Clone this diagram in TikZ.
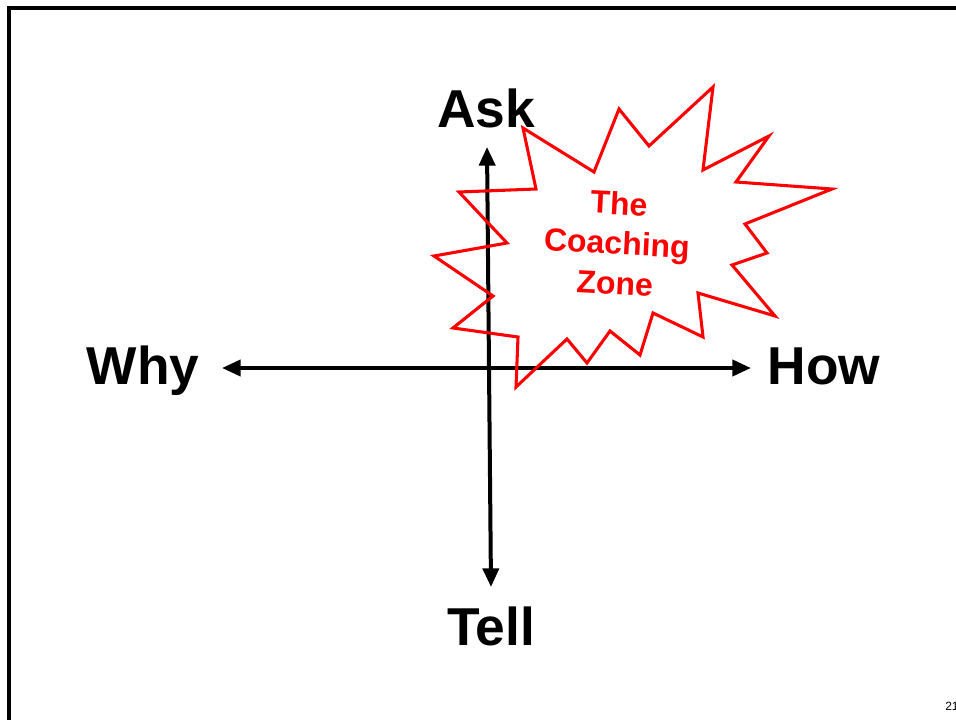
\documentclass[tikz,border=0pt]{standalone}
\usepackage{fontspec}
\setmainfont{Liberation Sans}
\usetikzlibrary{arrows.meta}

\tikzset{
  axislabel/.style={font=\fontsize{40}{48}\selectfont\bfseries, inner sep=0pt, anchor=base},
  axis/.style={line width=3pt, -{Triangle[length=14pt,width=12pt]}},
  burst/.style={draw=red, line width=2.3pt, line join=miter},
}

\begin{document}
\begin{tikzpicture}[x=0.75pt,y=-0.75pt]
        \useasboundingbox (0,0) rectangle (956,720);

        % slide frame
        \draw[line width=2.3pt] (9,721) -- (9,8) -- (957,8);

        % axis labels
        \node[axislabel] (ask) at (486,128) {Ask};
        \node[axislabel] (tell) at (491,645) {Tell};
        \node[axislabel] (why) at (143,384) {Why};
        \node[axislabel] (how) at (824,384) {How};

        \coordinate (top) at (487,147);
        \coordinate (bot) at (491,587);
        \coordinate (left) at (222,368);
        \coordinate (right) at (751,368);
        \coordinate (origin) at (489,368);

        \draw[axis] (origin) -- (left);
        \draw[axis] (origin) -- (right);
        \draw[axis] (origin) -- (top);
        \draw[axis] (origin) -- (bot);

        % the star
        \draw[burst] (523,128) -- (594,172) -- (619,109) -- (649,146)
            -- (713,87) -- (703,170) -- (769,136) -- (736,182) -- (832,189)
            -- (745,224) -- (767,253) -- (732,265) -- (775,316) -- (698,293)
            -- (703,337) -- (653,313) -- (640,355) -- (610,331) -- (587,363)
            -- (567,339) -- (516,387) -- (518,337) -- (453,328) -- (493,296)
            -- (434,256) -- (507,243) -- (459,192) -- (536,189) -- cycle;

        \node[font=\fontsize{24}{30}\selectfont\bfseries, text=red, align=center, rotate=-3] (zone) at (617,243) {The\\Coaching\\Zone};

        \node[font=\fontsize{9}{11}\selectfont, anchor=base west, inner sep=0pt] (page) at (945,710) {21};
\end{tikzpicture}
\end{document}
